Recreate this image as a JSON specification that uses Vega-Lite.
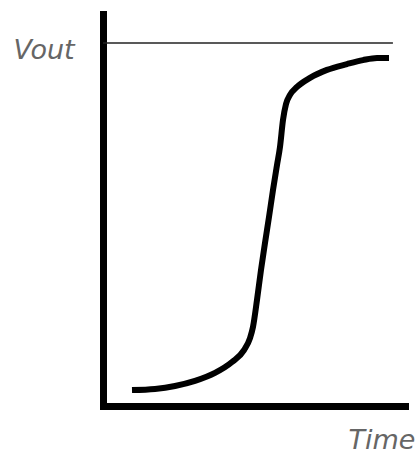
{
  "$schema": "https://vega.github.io/schema/vega-lite/v6.json",
  "autosize": "none",
  "width": 302,
  "height": 392,
  "padding": {"left": 103, "top": 14, "right": 10, "bottom": 49},
  "background": "white",
  "config": {
    "view": {"stroke": null},
    "axis": {
      "domainColor": "black",
      "domainWidth": 7,
      "domainCap": "square",
      "ticks": false,
      "labels": false,
      "grid": false,
      "titleFont": "DejaVu Sans",
      "titleFontStyle": "italic",
      "titleFontWeight": "normal",
      "titleFontSize": 27,
      "titleColor": "#666666",
      "titleAngle": 0,
      "titleAlign": "left",
      "titleBaseline": "alphabetic"
    }
  },
  "datasets": {
    "response": [
      {"time": 0.96, "vout": 0.044},
      {"time": 1.722, "vout": 0.047},
      {"time": 2.384, "vout": 0.055},
      {"time": 3.046, "vout": 0.069},
      {"time": 3.709, "vout": 0.091},
      {"time": 4.272, "vout": 0.121},
      {"time": 4.669, "vout": 0.154},
      {"time": 4.868, "vout": 0.187},
      {"time": 4.967, "vout": 0.218},
      {"time": 5.099, "vout": 0.292},
      {"time": 5.232, "vout": 0.375},
      {"time": 5.364, "vout": 0.449},
      {"time": 5.497, "vout": 0.521},
      {"time": 5.629, "vout": 0.595},
      {"time": 5.762, "vout": 0.664},
      {"time": 5.861, "vout": 0.714},
      {"time": 5.96, "vout": 0.788},
      {"time": 6.06, "vout": 0.832},
      {"time": 6.192, "vout": 0.857},
      {"time": 6.424, "vout": 0.879},
      {"time": 6.854, "vout": 0.904},
      {"time": 7.417, "vout": 0.926},
      {"time": 8.079, "vout": 0.942},
      {"time": 8.609, "vout": 0.953},
      {"time": 9.073, "vout": 0.959},
      {"time": 9.47, "vout": 0.959}
    ],
    "ceiling": [
      {"start": 0, "end": 9.6, "vout": 1.0}
    ]
  },
  "encoding": {
    "x": {
      "type": "quantitative",
      "scale": {"domain": [0, 10], "nice": false, "zero": false},
      "axis": {"title": "Time", "titleX": 245, "titleY": 42}
    },
    "y": {
      "type": "quantitative",
      "scale": {"domain": [0, 1.08], "nice": false, "zero": false},
      "axis": {"title": "Vout", "titleX": -90, "titleY": 44}
    }
  },
  "layer": [
    {
      "data": {"name": "ceiling"},
      "mark": {"type": "rule", "color": "#222222", "strokeWidth": 1.5},
      "encoding": {
        "x": {"field": "start", "type": "quantitative"},
        "x2": {"field": "end"},
        "y": {"field": "vout", "type": "quantitative"}
      }
    },
    {
      "data": {"name": "response"},
      "mark": {"type": "line", "color": "black", "strokeWidth": 6, "interpolate": "monotone", "strokeCap": "butt", "strokeJoin": "round"},
      "encoding": {
        "x": {"field": "time", "type": "quantitative"},
        "y": {"field": "vout", "type": "quantitative"}
      }
    }
  ]
}
